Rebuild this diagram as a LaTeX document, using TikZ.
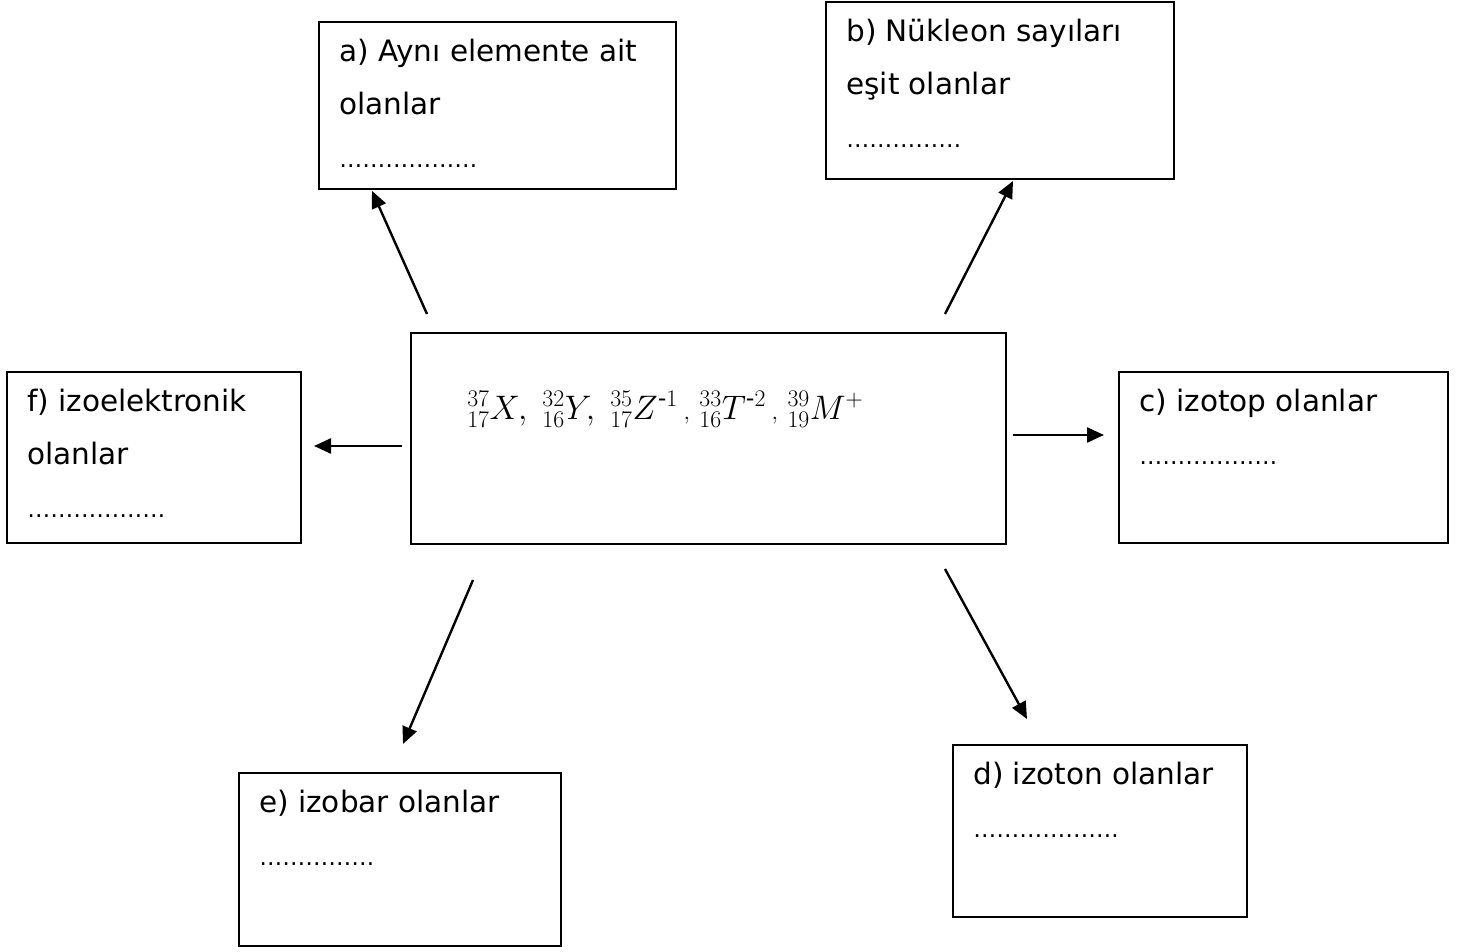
\RequirePackage{fix-cm}
\documentclass[tikz,border=0pt]{standalone}
\usepackage{amsmath}
\usepackage{fontspec}
\setmainfont{DejaVu Sans}
\usetikzlibrary{arrows.meta}
\usetikzlibrary{calc}
\tikzset{
  box/.style={draw,line width=1.8pt,inner sep=0pt},
  boxtext/.style={anchor=north west,inner sep=0pt,align=left,
                  font=\fontsize{29.5}{53}\selectfont},
  link/.style={-{Triangle[length=17pt,width=15pt]},line width=2.4pt}}
\newcommand\dotrow[1]{{\fontsize{23}{53}\selectfont #1}}

\begin{document}
\begin{tikzpicture}[x=1pt,y=-1pt]
  \useasboundingbox (0,0) rectangle (1467,952);
  \def\dx{21} % text indent
  \def\dy{18} % top of first line
  
  % BOXES
  \node[box,minimum width=595pt,minimum height=211pt] (cen) at (708.5,438.5) {};
  \node[box,minimum width=357pt,minimum height=167pt] (a) at (497.5,105.5) {};
  \node[box,minimum width=348pt,minimum height=177pt] (b) at (1000,90.5) {};
  \node[box,minimum width=329pt,minimum height=171pt] (c) at (1283.5,457.5) {};
  \node[box,minimum width=294pt,minimum height=172pt] (d) at (1100,831) {};
  \node[box,minimum width=322pt,minimum height=173pt] (e) at (400,859.5) {};
  \node[box,minimum width=294pt,minimum height=171pt] (f) at (154,457.5) {};
  
  % TEXTS
  \node[anchor=base west,inner sep=0pt,font=\fontsize{34}{40}\selectfont] (ions)
    at ($(cen.north west)+(57,87)$)
    {${}^{37}_{17}X,\;{}^{32}_{16}Y,\;{}^{35}_{17}Z^{\text{-}1}\,{\scriptstyle,}\;{}^{33}_{16}T^{\text{-}2}\,{\scriptstyle,}\;{}^{39}_{19}M^{+}$};
  \node[boxtext] (atext) at ($(a.north west)+(\dx,\dy)$)
    {a) Aynı elemente ait\\olanlar\\\dotrow{………………}};
  \node[boxtext] (btext) at ($(b.north west)+(\dx,\dy)$)
    {b) Nükleon sayıları\\eşit olanlar\\\dotrow{……………}};
  \node[boxtext] (ctext) at ($(c.north west)+(\dx,\dy)$)
    {c) izotop olanlar\\\dotrow{………………}};
  \node[boxtext] (dtext) at ($(d.north west)+(\dx,\dy)$)
    {d) izoton olanlar\\\dotrow{……………….}};
  \node[boxtext] (etext) at ($(e.north west)+(\dx,\dy)$)
    {e) izobar olanlar\\\dotrow{……………}};
  \node[boxtext] (ftext) at ($(f.north west)+(\dx,\dy)$)
    {f) izoelektronik\\olanlar\\\dotrow{………………}};
  
  % ARROWS
  \coordinate (A0) at (427,314);  \coordinate (A1) at (372,191);
  \coordinate (B0) at (945,314);  \coordinate (B1) at (1013,181);
  \coordinate (C0) at (1013,435); \coordinate (C1) at (1104,435);
  \coordinate (D0) at (945,569);  \coordinate (D1) at (1027,719);
  \coordinate (E0) at (473,580);  \coordinate (E1) at (403,744);
  \coordinate (F0) at (402,446);  \coordinate (F1) at (314,446);
  \draw[link] (A0) -- (A1);
  \draw[link] (B0) -- (B1);
  \draw[link] (C0) -- (C1);
  \draw[link] (D0) -- (D1);
  \draw[link] (E0) -- (E1);
  \draw[link] (F0) -- (F1);
  
\end{tikzpicture}
\end{document}
